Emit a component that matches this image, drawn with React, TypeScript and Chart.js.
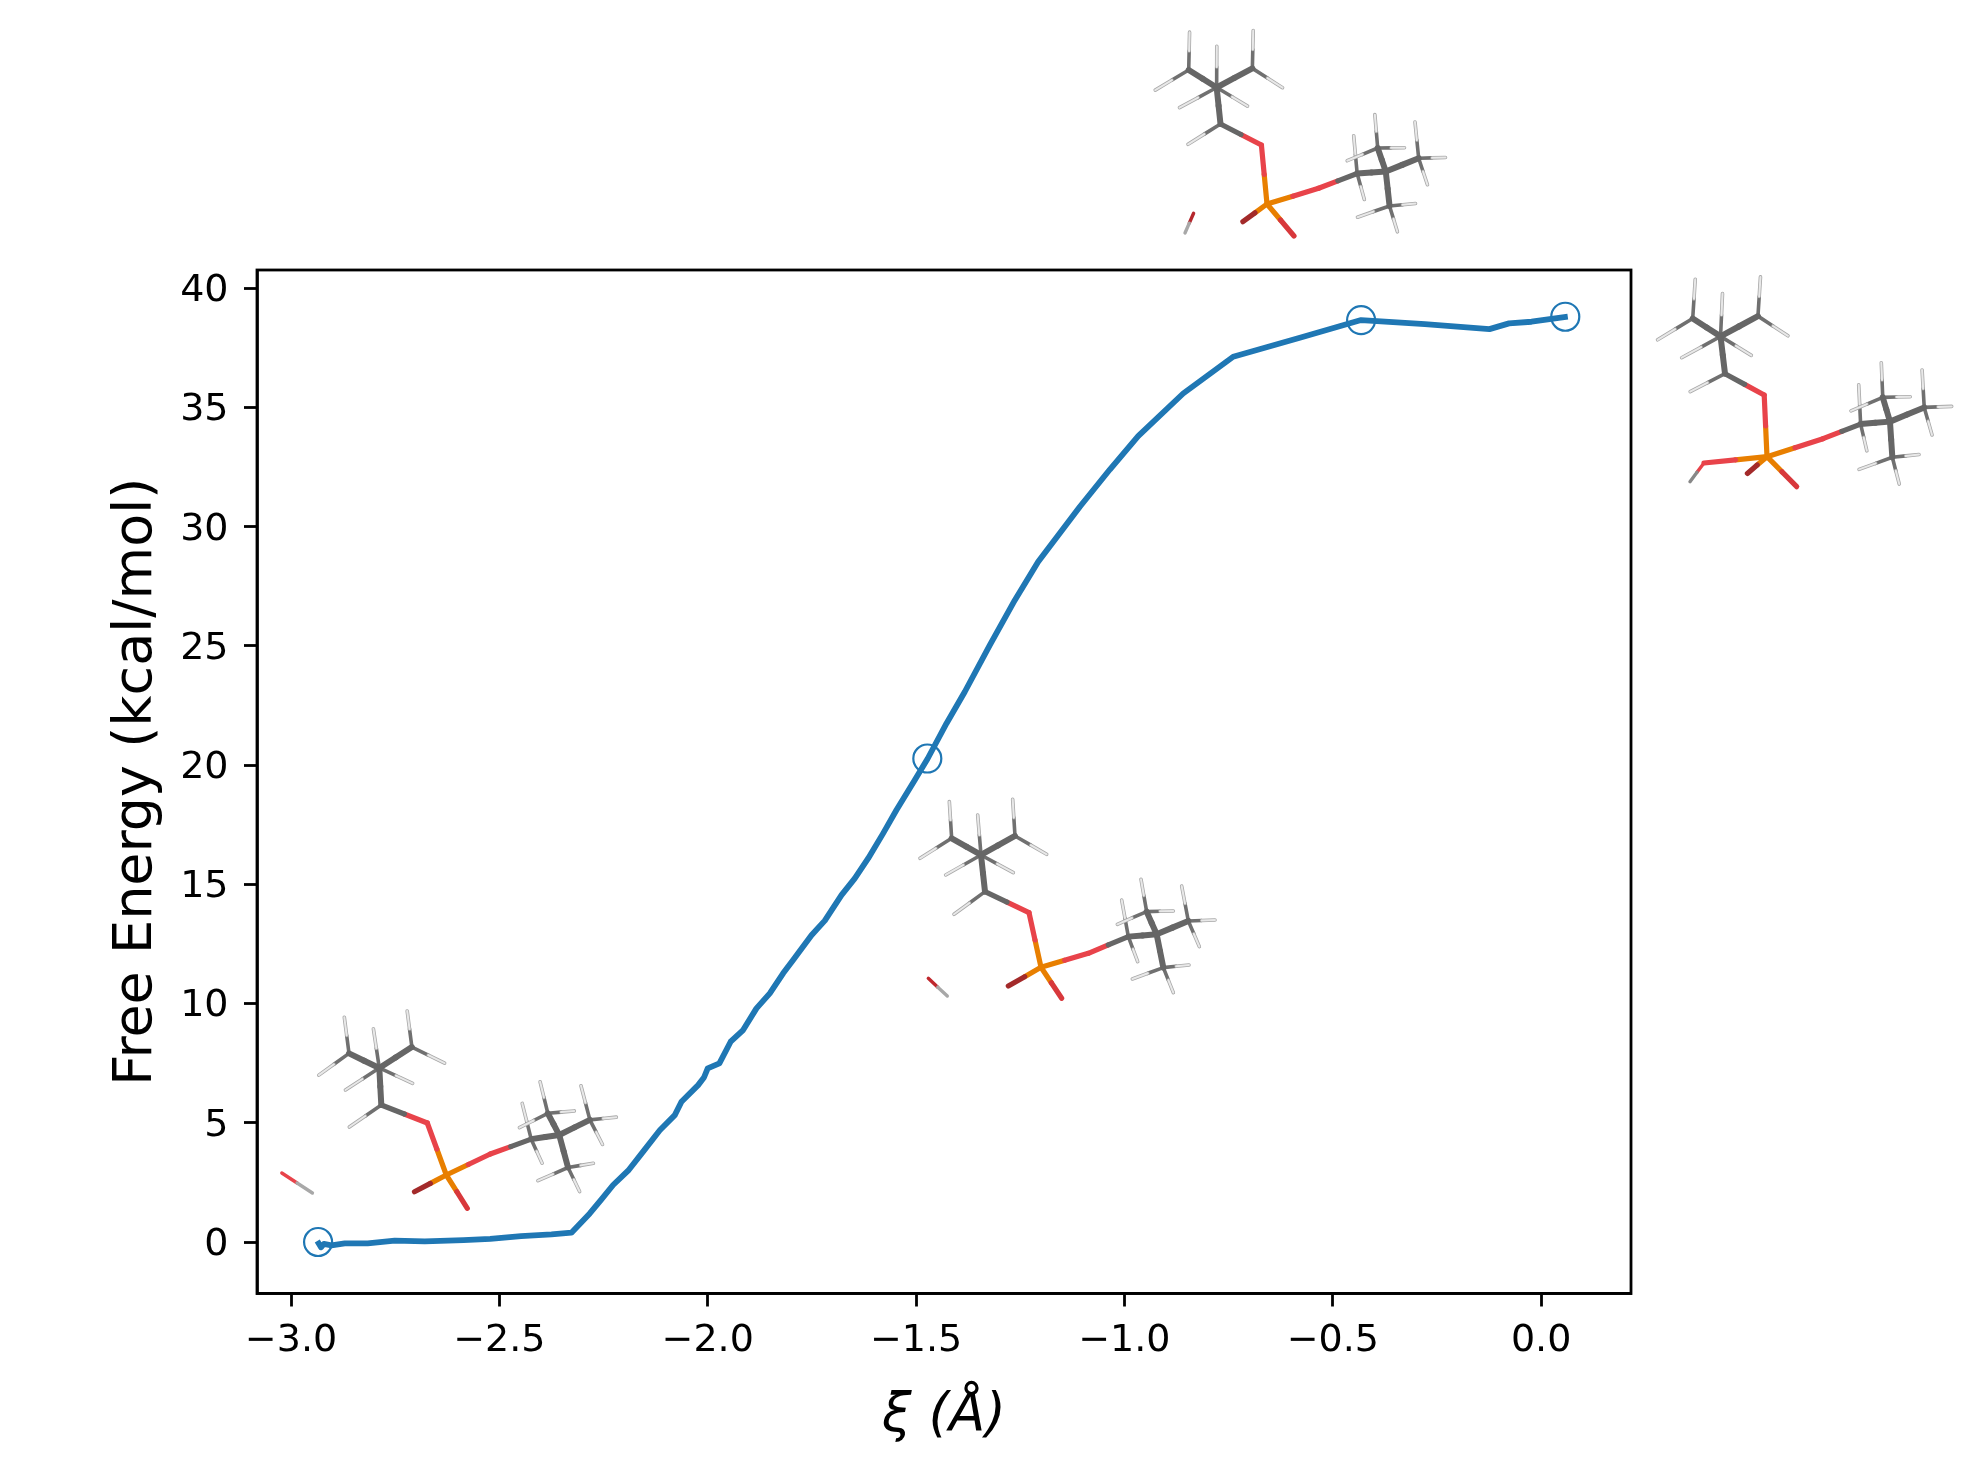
import { useEffect, useRef } from "react";
import { Chart, registerables } from "chart.js";

Chart.register(...registerables);

const FONT = "'DejaVu Sans', sans-serif";
const BLUE = "#1f77b4";

// reaction coordinate and free energy along the curve
const xiValues = [
  -2.937, -2.928, -2.921, -2.903, -2.871, -2.816, -2.751, -2.679, -2.586, -2.522, -2.448, -2.375, -2.327,
  -2.283, -2.255, -2.227, -2.191, -2.155, -2.115, -2.079, -2.063, -2.023, -2.009, -2.0, -1.972, -1.945,
  -1.915, -1.883, -1.851, -1.819, -1.795, -1.751, -1.719, -1.679, -1.647, -1.615, -1.579, -1.547, -1.503,
  -1.472, -1.427, -1.383, -1.323, -1.263, -1.207, -1.107, -1.035, -0.967, -0.859, -0.739, -0.579, -0.432,
  -0.279, -0.124, -0.077, -0.023, 0.064,
];
const energyValues = [
  0.04, -0.22, -0.08, -0.14, -0.06, -0.06, 0.06, 0.03, 0.08, 0.13, 0.25, 0.32, 0.39,
  1.2, 1.79, 2.39, 2.99, 3.79, 4.69, 5.32, 5.88, 6.58, 6.9, 7.28, 7.49, 8.4,
  8.89, 9.8, 10.43, 11.27, 11.83, 12.87, 13.48, 14.55, 15.25, 16.09, 17.14, 18.12, 19.38,
  20.28, 21.75, 23.08, 25.04, 26.92, 28.53, 30.84, 32.4, 33.8, 35.59, 37.13, 37.93, 38.67,
  38.5, 38.29, 38.53, 38.6, 38.81,
];

// the four structures marked on the curve
const markerXi = [-2.935, -1.473, -0.432, 0.058];
const markerEnergy = [0, 20.28, 38.67, 38.81];

const xTicks = [-3, -2.5, -2, -1.5, -1, -0.5, 0];
const yTicks = [0, 5, 10, 15, 20, 25, 30, 35, 40];

// molecule sketch, atom positions measured off one of the insets (P is the origin)
const ATOMS: Record<string, [number, number]> = {
  P: [483, 682], Oa: [447, 518], C1: [315, 455], H1: [222, 523], C2: [303, 345], C3: [215, 295], C4: [405, 288],
  H2a: [293, 225], H2b: [197, 405], H2c: [400, 398], H3a: [208, 185], H3b: [120, 355], H4a: [398, 178], H4b: [500, 343],
  Ob: [625, 640], C6: [745, 590], H6a: [725, 480], H6b: [773, 665], C7: [830, 583], C8: [800, 515],
  H8a: [783, 418], H8b: [880, 513], H8c: [712, 553], C9: [925, 543], H9a: [905, 438], H9b: [1005, 540], H9c: [958, 620],
  C10: [850, 683], H10a: [927, 675], H10b: [757, 717], H10c: [880, 758], Od: [385, 738], Oe: [545, 775],
};
const ATOM_COLOR: Record<string, string> = {
  P: "#e87f00", O: "#e8434a", D: "#a32a2a", E: "#d8383c", C: "#666666", H: "#e8e8e8",
};
const heavyBonds = [
  ["P", "Oa"], ["Oa", "C1"], ["C1", "C2"], ["C2", "C3"], ["C2", "C4"], ["P", "Ob"], ["Ob", "C6"], ["C6", "C7"],
  ["C7", "C8"], ["C7", "C9"], ["C7", "C10"], ["P", "Od"], ["P", "Oe"],
];
const hydrogenBonds = [
  ["C1", "H1"], ["C2", "H2a"], ["C2", "H2b"], ["C2", "H2c"], ["C3", "H3a"], ["C3", "H3b"], ["C4", "H4a"], ["C4", "H4b"],
  ["C6", "H6a"], ["C6", "H6b"], ["C8", "H8a"], ["C8", "H8b"], ["C8", "H8c"], ["C9", "H9a"], ["C9", "H9b"], ["C9", "H9c"],
  ["C10", "H10a"], ["C10", "H10b"], ["C10", "H10c"],
];
// P position, skew of each inset and atoms that sit elsewhere in that view
const insets: { at: number[]; m: number[]; over: Record<string, number[]> }[] = [
  {
    at: [446.3, 1175],
    m: [0.995, -0.064, 0.065, 0.987],
    over: { Od: [-31.8, 16.7], Oe: [21, 33.3], Oa: [-19, -52], C1: [-65, -70], H1: [-97, -48], Ob: [44, -21] },
  },
  { at: [1041, 967.3], m: [1, 0, 0, 1], over: {} },
  {
    at: [1267, 204],
    m: [1.002, 0.013, -0.087, 1.03],
    over: { Od: [-24.1, 17.7], Oe: [27, 32], Oa: [-5.6, -59], C1: [-46.5, -80], H1: [-79, -59.7], Ob: [51.6, -15.7] },
  },
  {
    at: [1767, 456.7],
    m: [1.025, 0.002, -0.134, 1.07],
    over: { Od: [-19.6, 16.7], Oe: [29.7, 30], Oa: [-2.8, -61.7], C1: [-42, -83], H1: [-76.8, -65], Ob: [56, -18] },
  },
];
// loose O-H pieces next to the insets, in page pixels
const waters = [
  { o: [281.8, 1173], h: [312.4, 1193], c: "#e8434a" },
  { o: [928.3, 978.3], h: [947.3, 996], c: "#c0272d" },
  { o: [1193.6, 213.3], h: [1185, 233], c: "#b5272d" },
];
const hydroxyl = { o: [1704, 463], h: [1690, 481.7] };

function atomColor(name: string) {
  if (name === "Od") return ATOM_COLOR.D;
  if (name === "Oe") return ATOM_COLOR.E;
  return ATOM_COLOR[name[0]];
}

function segment(ctx: CanvasRenderingContext2D, a: number[], b: number[], color: string, w: number) {
  ctx.lineWidth = w;
  ctx.strokeStyle = color;
  ctx.beginPath();
  ctx.moveTo(a[0], a[1]);
  ctx.lineTo(b[0], b[1]);
  ctx.stroke();
}

function halfBond(ctx: CanvasRenderingContext2D, a: number[], b: number[], ca: string, cb: string, w: number) {
  const mid = [(a[0] + b[0]) / 2, (a[1] + b[1]) / 2];
  segment(ctx, a, mid, ca, w);
  segment(ctx, mid, b, cb, w);
}

function hydrogen(ctx: CanvasRenderingContext2D, a: number[], b: number[]) {
  const mid = [(a[0] + b[0]) / 2, (a[1] + b[1]) / 2];
  segment(ctx, a, mid, "#707070", 3.6);
  segment(ctx, mid, b, "#a8a8a8", 3.6);
  segment(ctx, mid, b, ATOM_COLOR.H, 2);
}

const framePlugin = {
  id: "frame",
  afterLayout(chart: Chart) {
    // matplotlib centres digits a bit lower than the canvas middle baseline
    (chart.scales.y as any).getLabelItems().forEach((item: any) => {
      item.textOffset += 3;
    });
  },
  afterDatasetsDraw(chart: Chart) {
    const { ctx, chartArea: a } = chart;
    ctx.save();
    ctx.strokeStyle = "#000000";
    ctx.lineWidth = 2.8;
    ctx.strokeRect(a.left, a.top, a.right - a.left, a.bottom - a.top);
    ctx.restore();
  },
};

const moleculePlugin = {
  id: "molecules",
  afterDraw(chart: Chart) {
    const { ctx } = chart;
    ctx.save();
    ctx.lineCap = "round";
    ctx.lineJoin = "round";
    insets.forEach(({ at, m, over }) => {
      const place = (name: string) => {
        if (over[name]) return [at[0] + over[name][0], at[1] + over[name][1]];
        const dx = (ATOMS[name][0] - ATOMS.P[0]) / 3;
        const dy = (ATOMS[name][1] - ATOMS.P[1]) / 3;
        return [at[0] + m[0] * dx + m[2] * dy, at[1] + m[1] * dx + m[3] * dy];
      };
      hydrogenBonds.forEach(([a, b]) => hydrogen(ctx, place(a), place(b)));
      heavyBonds.forEach(([a, b]) => {
        const carbon = a[0] === "C" && b[0] === "C";
        halfBond(ctx, place(a), place(b), atomColor(a), atomColor(b), carbon ? 6 : 5.2);
      });
    });
    waters.forEach((w) => halfBond(ctx, w.o, w.h, w.c, "#a8a8a8", 3.4));
    halfBond(ctx, [1767, 456.7], hydroxyl.o, ATOM_COLOR.P, ATOM_COLOR.O, 5.2);
    halfBond(ctx, hydroxyl.o, hydroxyl.h, ATOM_COLOR.O, "#888888", 3.4);
    ctx.restore();
  },
};

export default function App() {
  const canvasRef = useRef<HTMLCanvasElement>(null);

  useEffect(() => {
    if (!canvasRef.current) return;
    const chart = new Chart(canvasRef.current, {
      type: "scatter",
      data: {
        datasets: [
          {
            data: xiValues.map((x, i) => ({ x, y: energyValues[i] })),
            showLine: true,
            borderColor: BLUE,
            borderWidth: 5.8,
            pointRadius: 0,
            tension: 0,
            borderJoinStyle: "round",
          },
          {
            data: markerXi.map((x, i) => ({ x, y: markerEnergy[i] })),
            showLine: false,
            pointRadius: 14,
            pointBorderWidth: 2.2,
            pointBorderColor: BLUE,
            pointBackgroundColor: "rgba(0,0,0,0)",
          },
        ],
      },
      options: {
        responsive: false,
        animation: false,
        devicePixelRatio: 1,
        layout: { padding: { left: 0, top: 270, right: 348, bottom: 0 } },
        plugins: { legend: { display: false }, tooltip: { enabled: false } },
        scales: {
          x: {
            type: "linear",
            min: -3.0816,
            max: 0.2157,
            afterFit: (scale: any) => {
              scale.height = 179.5;
            },
            afterBuildTicks: (scale: any) => {
              scale.ticks = xTicks.map((value) => ({ value }));
            },
            grid: { drawOnChartArea: false, tickLength: 13, tickColor: "#000", tickWidth: 2.8 },
            border: { color: "#000", width: 2.8 },
            ticks: {
              color: "#000",
              padding: 11.5,
              maxRotation: 0,
              autoSkip: false,
              font: { family: FONT, size: 38 },
              callback: (v: any) => Number(v).toFixed(1).replace("-", "\u2212"),
            },
            title: {
              display: true,
              text: "\u03BE (\u00C5)",
              color: "#000",
              padding: { top: 0, bottom: 29.5 },
              font: { family: FONT, size: 53, style: "italic", lineHeight: 1 },
            },
          },
          y: {
            type: "linear",
            min: -2.16,
            max: 40.77,
            afterFit: (scale: any) => {
              scale.width = 257;
            },
            afterBuildTicks: (scale: any) => {
              scale.ticks = yTicks.map((value) => ({ value }));
            },
            grid: { drawOnChartArea: false, tickLength: 13, tickColor: "#000", tickWidth: 2.8 },
            border: { color: "#000", width: 2.8 },
            ticks: {
              color: "#000",
              padding: 15.5,
              autoSkip: false,
              font: { family: FONT, size: 38 },
              callback: (v: any) => String(v),
            },
            title: {
              display: true,
              text: "Free Energy (kcal/mol)",
              color: "#000",
              padding: { top: 110, bottom: 0 },
              font: { family: FONT, size: 54, lineHeight: 1 },
            },
          },
        },
      },
      plugins: [framePlugin, moleculePlugin],
    } as any);

    return () => {
      chart.destroy();
    };
  }, []);

  return (
    <div style={{ position: "fixed", left: 0, top: 0, background: "#fff" }}>
      <canvas ref={canvasRef} width={1979} height={1473} style={{ display: "block" }} />
    </div>
  );
}
